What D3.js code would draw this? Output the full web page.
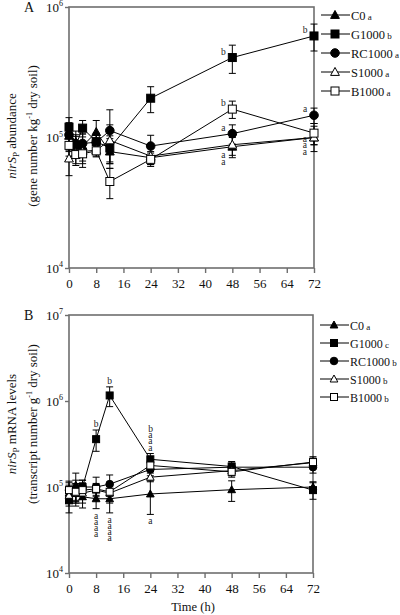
<!DOCTYPE html>
<html><head><meta charset="utf-8">
<script src="https://cdn.jsdelivr.net/npm/d3@7"></script>
<style>body{margin:0;background:#fff}svg{display:block;font-family:"Liberation Serif","Times New Roman",serif}</style>
</head><body>
<svg id="c" width="400" height="615"></svg>
<script>
const times = [0, 2, 4, 8, 12, 24, 48, 72];
const xTicks = [0, 8, 16, 24, 32, 40, 48, 56, 64, 72];
const seriesNames = ["C0", "G1000", "RC1000", "S1000", "B1000"];
const markerTypes = ["triFilled", "sqFilled", "circFilled", "triOpen", "sqOpen"];

// Panel A: nirSP gene abundance
const A_C0     = [1.03e5, 0.92e5, 0.86e5, 1.10e5, 0.78e5, 0.70e5, 0.85e5, 1.00e5];
const A_G1000  = [1.20e5, 0.87e5, 1.18e5, 0.93e5, 0.83e5, 2.00e5, 4.10e5, 6.00e5];
const A_RC1000 = [1.05e5, 0.90e5, 0.90e5, 0.92e5, 1.13e5, 0.86e5, 1.07e5, 1.48e5];
const A_S1000  = [0.69e5, 0.76e5, 0.78e5, 0.80e5, 0.95e5, 0.72e5, 0.88e5, 1.00e5];
const A_B1000  = [0.87e5, 0.74e5, 0.75e5, 0.79e5, 0.46e5, 0.68e5, 1.65e5, 1.08e5];
const A_errC0     = [0.25e5, 0.20e5, 0.20e5, 0.25e5, 0.20e5, 0.08e5, 0.15e5, 0.12e5];
const A_errG1000  = [0.22e5, 0.15e5, 0.17e5, 0.15e5, 0.20e5, 0.45e5, 1.00e5, 1.40e5];
const A_errRC1000 = [0.25e5, 0.15e5, 0.18e5, 0.12e5, 0.50e5, 0.18e5, 0.18e5, 0.20e5];
const A_errS1000  = [0.18e5, 0.13e5, 0.15e5, 0.08e5, 0.30e5, 0.10e5, 0.15e5, 0.22e5];
const A_errB1000  = [0.15e5, 0.13e5, 0.16e5, 0.08e5, 0.12e5, 0.08e5, 0.25e5, 0.20e5];
const A_legendLetters = ["a", "b", "a", "a", "a"];
const A_yTicks = [1e4, 1e5, 1e6];

// Panel B: nirSP mRNA levels
const B_C0     = [0.85e5, 1.05e5, 0.77e5, 0.73e5, 0.73e5, 0.83e5, 0.93e5, 1.00e5];
const B_G1000  = [0.70e5, 0.85e5, 1.00e5, 3.60e5, 1.16e6, 2.10e5, 1.73e5, 0.92e5];
const B_RC1000 = [0.92e5, 0.95e5, 1.00e5, 1.00e5, 1.08e5, 1.60e5, 1.70e5, 1.70e5];
const B_S1000  = [0.80e5, 0.85e5, 0.85e5, 0.92e5, 0.85e5, 1.30e5, 1.55e5, 1.92e5];
const B_B1000  = [0.92e5, 0.88e5, 0.92e5, 0.95e5, 0.88e5, 1.78e5, 1.50e5, 1.95e5];
const B_errC0     = [0.20e5, 0.40e5, 0.20e5, 0.17e5, 0.23e5, 0.35e5, 0.25e5, 0.15e5];
const B_errG1000  = [0.20e5, 0.25e5, 0.20e5, 1.00e5, 0.30e6, 0.35e5, 0.25e5, 0.20e5];
const B_errRC1000 = [0.25e5, 0.25e5, 0.20e5, 0.30e5, 0.30e5, 0.25e5, 0.20e5, 0.25e5];
const B_errS1000  = [0.20e5, 0.20e5, 0.20e5, 0.15e5, 0.20e5, 0.15e5, 0.20e5, 0.25e5];
const B_errB1000  = [0.20e5, 0.20e5, 0.20e5, 0.15e5, 0.15e5, 0.25e5, 0.20e5, 0.30e5];
const B_legendLetters = ["a", "c", "b", "b", "b"];
const B_yTicks = [1e4, 1e5, 1e6, 1e7];

// Significance letters
const A_lettersLeft = [[48, 1, "b"], [48, 4, "b"], [48, 2, "a"], [72, 1, "b"], [72, 2, "a"]];
const A_lettersBelow = [[48, 0, "aa"], [72, 0, "aaa"]];
const B_lettersAbove = [[8, 1, "b"], [12, 1, "b"], [24, 1, "baaa"]];
const B_lettersBelow = [[8, 0, "aaaa"], [12, 0, "aaaa"], [24, 0, "a"]];

const svg = d3.select("#c");
const axisColor = "#6e6e6e";
const letterSize = 9.5;

function marker(g, type, x, y, s) {
  const filled = type.endsWith("Filled");
  const fill = filled ? "#000" : "#fff";
  if (type.startsWith("tri")) {
    const h = s * 0.95;
    g.append("path").attr("d", `M${x},${y - h * 0.6}L${x + s * 0.55},${y + h * 0.45}L${x - s * 0.55},${y + h * 0.45}Z`)
      .attr("fill", fill).attr("stroke", "#000").attr("stroke-width", 1);
  } else if (type.startsWith("sq")) {
    g.append("rect").attr("x", x - s / 2).attr("y", y - s / 2).attr("width", s).attr("height", s)
      .attr("fill", fill).attr("stroke", "#000").attr("stroke-width", 1);
  } else {
    g.append("circle").attr("cx", x).attr("cy", y).attr("r", s / 2 + 0.3)
      .attr("fill", fill).attr("stroke", "#000").attr("stroke-width", 1);
  }
}

function supText(sel, base, sup, size) {
  sel.append("tspan").text(base);
  sel.append("tspan").text(sup).attr("font-size", size * 0.62).attr("dy", -size * 0.4);
}

// vertical stack of upright letters as one text; y0 = baseline of first letter
function stacked(g, x, y0, letters, step) {
  if (letters.length === 1) {
    g.append("text").attr("x", x).attr("y", y0).attr("text-anchor", "middle")
      .attr("font-size", letterSize).attr("fill", "#222").text(letters);
    return;
  }
  const adv = letterSize * 0.46;
  g.append("text")
    .attr("transform", `translate(${x - adv / 2},${y0}) rotate(90)`)
    .attr("rotate", "-90")
    .attr("letter-spacing", step - adv)
    .attr("font-size", letterSize).attr("fill", "#222").text(letters);
}

function panel(cfg) {
  const x = d3.scaleLinear().domain([0, 72]).range([cfg.left, cfg.right]);
  const y = d3.scaleLog().domain([cfg.yTicks[0], cfg.yTicks[cfg.yTicks.length - 1]]).range([cfg.bottom, cfg.top]);
  const g = svg.append("g");

  g.append("rect").attr("x", cfg.left).attr("y", cfg.top).attr("width", cfg.right - cfg.left)
    .attr("height", cfg.bottom - cfg.top).attr("fill", "none").attr("stroke", axisColor).attr("stroke-width", 1.6);

  const xa = g.append("g").attr("transform", `translate(0,${cfg.bottom})`)
    .call(d3.axisBottom(x).tickValues(xTicks).tickSize(5).tickPadding(6).tickFormat(d3.format("d")));
  xa.select(".domain").remove();
  xa.selectAll("line").attr("stroke", axisColor).attr("stroke-width", 1.4);
  xa.selectAll("text").attr("font-family", "Liberation Serif").attr("font-size", 13).attr("fill", "#111");

  const ya = g.append("g").attr("transform", `translate(${cfg.left},0)`)
    .call(d3.axisLeft(y).tickValues(cfg.yTicks).tickSize(4).tickFormat(""));
  ya.select(".domain").remove();
  ya.selectAll("line").attr("stroke", axisColor).attr("stroke-width", 1.4);
  cfg.yTicks.forEach(v => {
    const t = g.append("text").attr("x", cfg.left - 6).attr("y", y(v) + 4.5).attr("text-anchor", "end")
      .attr("font-size", 13).attr("fill", "#111");
    supText(t, "10", String(Math.round(Math.log10(v))), 13);
  });

  const line = d3.line().x(d => x(d[0])).y(d => y(d[1]));
  cfg.series.forEach(s => {
    g.append("path").datum(times.map((t, i) => [t, s[i]])).attr("d", line)
      .attr("fill", "none").attr("stroke", "#000").attr("stroke-width", 1);
  });
  cfg.series.forEach((s, k) => {
    const e = cfg.errs[k];
    times.forEach((t, i) => {
      const cx = x(t), y1 = y(s[i] + e[i]), y2 = y(Math.max(s[i] - e[i], cfg.yTicks[0] * 1.01));
      g.append("line").attr("x1", cx).attr("x2", cx).attr("y1", y1).attr("y2", y2).attr("stroke", "#000").attr("stroke-width", 1);
      [y1, y2].forEach(yy => g.append("line").attr("x1", cx - 3.5).attr("x2", cx + 3.5).attr("y1", yy).attr("y2", yy)
        .attr("stroke", "#000").attr("stroke-width", 1));
    });
  });
  cfg.series.forEach((s, k) => {
    times.forEach((t, i) => marker(g, markerTypes[k], x(t), y(s[i]), cfg.ms));
  });

  seriesNames.forEach((n, k) => {
    const ly = cfg.legTop + k * cfg.legStep;
    g.append("line").attr("x1", cfg.legX).attr("x2", cfg.legX + 29).attr("y1", ly).attr("y2", ly).attr("stroke", "#000").attr("stroke-width", 1);
    marker(g, markerTypes[k], cfg.legX + 14, ly, cfg.ms);
    const t = g.append("text").attr("x", cfg.legX + 30).attr("y", ly + 4.5).attr("font-size", cfg.legFont).attr("fill", "#111");
    t.append("tspan").text(n);
    t.append("tspan").text(" " + cfg.legLetters[k]).attr("font-size", 9);
  });

  g.append("text").attr("x", 24).attr("y", cfg.top + 5).attr("font-size", 14).attr("fill", "#111").text(cfg.label);

  const tg = g.append("g").attr("transform", `translate(0,${cfg.titleY}) rotate(-90)`);
  const t1 = tg.append("text").attr("x", 0).attr("y", 16).attr("text-anchor", "middle").attr("font-size", 13).attr("fill", "#111");
  t1.append("tspan").text("nirS").attr("font-style", "italic");
  t1.append("tspan").text("P").attr("font-size", 9).attr("dy", 3);
  t1.append("tspan").text(" " + cfg.title1).attr("dy", -3);
  const t2 = tg.append("text").attr("x", 0).attr("y", 37).attr("text-anchor", "middle").attr("font-size", 13).attr("fill", "#111");
  t2.append("tspan").text(cfg.title2a);
  t2.append("tspan").text("-1").attr("font-size", 8).attr("dy", -5);
  t2.append("tspan").text(" dry soil)").attr("dy", 5);
  return { x, y, g };
}

const seriesA = [A_C0, A_G1000, A_RC1000, A_S1000, A_B1000];
const errsA = [A_errC0, A_errG1000, A_errRC1000, A_errS1000, A_errB1000];
const seriesB = [B_C0, B_G1000, B_RC1000, B_S1000, B_B1000];
const errsB = [B_errC0, B_errG1000, B_errRC1000, B_errS1000, B_errB1000];

const A = panel({
  left: 69, right: 314, top: 7, bottom: 268, yTicks: A_yTicks, series: seriesA, errs: errsA,
  ms: 8, legX: 321, legTop: 15, legStep: 19, legFont: 12.5, legLetters: A_legendLetters,
  label: "A", titleY: 136, title1: "abundance", title2a: "(gene number kg"
});
const B = panel({
  left: 69, right: 313, top: 315, bottom: 573, yTicks: B_yTicks, series: seriesB, errs: errsB,
  ms: 7, legX: 320, legTop: 325, legStep: 18, legFont: 12, legLetters: B_legendLetters,
  label: "B", titleY: 424, title1: "mRNA levels", title2a: "(transcript number g"
});

svg.append("text").attr("x", 193).attr("y", 611).attr("text-anchor", "middle").attr("font-size", 12.5).attr("fill", "#111").text("Time (h)");

// letters A
A_lettersLeft.forEach(([t, k, l]) => {
  const i = times.indexOf(t);
  stacked(A.g, A.x(t) - 9, A.y(seriesA[k][i]) - 3, l, 7);
});
A_lettersBelow.forEach(([t, k, ls]) => {
  const i = times.indexOf(t);
  stacked(A.g, A.x(t) - 9, A.y(seriesA[k][i]) + 11 - (ls.length - 2) * 7, ls, 7);
});
// letters B
B_lettersAbove.forEach(([t, k, ls]) => {
  const i = times.indexOf(t);
  const top = B.y(seriesB[k][i] + errsB[k][i]);
  stacked(B.g, B.x(t), top - 3 - (ls.length - 1) * 6.3, ls, 6.3);
});
B_lettersBelow.forEach(([t, k, ls]) => {
  const i = times.indexOf(t);
  const bot = B.y(seriesB[k][i] - errsB[k][i]);
  stacked(B.g, B.x(t), bot + 10, ls, 6.3);
});
</script>
</body></html>
